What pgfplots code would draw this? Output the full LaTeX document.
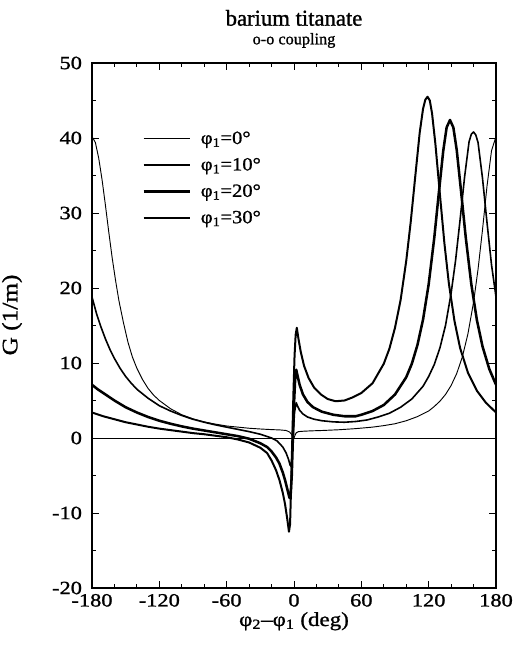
\documentclass[border=0pt]{standalone}
\usepackage{fontspec}
\setmainfont{Liberation Serif}
\newfontfamily\tickfont{Liberation Serif}[FakeStretch=1.2,FakeBold=1.2]
\newfontfamily\labfont{Liberation Serif}[FakeStretch=1.15,FakeBold=1.2]
\newfontfamily\legfont{Liberation Serif}[FakeStretch=1.1,FakeBold=1.0]
\newfontfamily\titfont{Liberation Serif}[FakeBold=1.2]
\usepackage{pgfplots}
\pgfplotsset{compat=1.18}
\begin{document}
\begin{tikzpicture}
\useasboundingbox (-69pt,-50.25pt) rectangle (316.5pt,441pt);
\begin{axis}[
 at={(0,0)}, anchor=south west,
 width=303pt, height=393.75pt, scale only axis,
 xmin=-180, xmax=180, ymin=-20, ymax=50,
 xtick={-180,-120,...,180}, ytick={-20,-10,...,50},
 minor x tick num=2, minor y tick num=1,
 tick align=inside,
 major tick length=5pt, minor tick length=3pt,
 axis line style={line width=0.9pt},
 every tick/.style={black, line width=0.6pt},
 /pgf/number format/assume math mode=true,
 ticklabel style={font=\tickfont\fontsize{14}{14}\selectfont},
 xticklabel style={yshift=-1pt},
 yticklabel style={xshift=-4pt},
 legend cell align=left,
 legend style={draw=none, fill=none, at={(axis cs:-139,41.6)}, anchor=north west,
   font=\legfont\fontsize{14}{14}\selectfont, row sep=5pt},
 legend image code/.code={\draw[#1] (0pt,0pt) -- (35pt,0pt); \path (40pt,0pt);},
 every axis plot/.append style={black, line join=round},
]
\addplot[line width=0.7pt] coordinates {
(-180,40.2)(-177,39.4)(-174,37.3)(-171,34.4)(-168,31.0)(-165,27.4)(-162,24.0)(-159,21.0)(-156,18.3)(-152,15.4)(-148,12.8)(-144,10.8)(-140,9.3)(-135,7.8)(-130,6.6)(-125,5.7)(-120,5.0)(-110,3.9)(-100,3.1)(-90,2.55)(-80,2.15)(-70,1.85)(-60,1.6)(-50,1.45)(-40,1.3)(-30,1.2)(-20,1.12)(-12,1.07)(-7,1.0)(-4,0.8)(-2,0.45)(-1,0.15)(0,0)(1,0.4)(2,0.7)(4,0.85)(8,0.9)(15,0.95)(25,1.0)(40,1.1)(55,1.25)(70,1.45)(80,1.65)(90,1.9)(100,2.3)(110,2.85)(120,3.6)(125,4.2)(130,4.9)(135,5.8)(140,7.0)(145,8.6)(150,10.8)(155,13.9)(160,18.1)(164,22.5)(168,27.8)(172,33.6)(176,38.3)(180,40.2)};
\addlegendentry{φ\textsubscript{1}=0°}
\addplot[line width=1.2pt] coordinates {
(-180,18.8)(-176,16.6)(-172,14.8)(-168,13.2)(-164,11.8)(-160,10.6)(-155,9.3)(-150,8.2)(-145,7.3)(-140,6.5)(-130,5.3)(-120,4.3)(-110,3.6)(-100,3.0)(-90,2.5)(-80,2.1)(-70,1.75)(-60,1.45)(-50,1.15)(-40,0.85)(-30,0.5)(-20,0.0)(-15,-0.4)(-10,-1.2)(-7,-2.0)(-5,-2.8)(-3.5,-3.6)(-2.5,-3.8)(-1.5,-2)(-0.5,1)(0.5,3.5)(2,4.7)(3,4.3)(5,3.7)(8,3.2)(12,2.8)(18,2.5)(25,2.3)(35,2.15)(45,2.1)(55,2.2)(65,2.4)(75,2.8)(85,3.3)(95,4.1)(105,5.2)(115,6.9)(120,8.2)(125,9.8)(130,12.0)(135,15.0)(140,19.3)(144,23.7)(148,29.1)(152,34.8)(156,39.5)(158,40.5)(160,40.8)(162,40.4)(164,39.4)(168,34.6)(172,28.7)(176,23.1)(180,18.8)};
\addlegendentry{φ\textsubscript{1}=10°}
\addplot[line width=1.9pt] coordinates {
(-180,7.1)(-175,6.5)(-170,6.0)(-165,5.5)(-160,5.0)(-150,4.1)(-140,3.4)(-130,2.8)(-120,2.3)(-110,1.9)(-100,1.55)(-90,1.25)(-80,1.0)(-70,0.75)(-60,0.5)(-50,0.25)(-40,-0.1)(-30,-0.7)(-24,-1.2)(-20,-1.8)(-16,-2.6)(-13,-3.4)(-10,-4.6)(-8,-5.6)(-6,-6.8)(-4,-8.0)(-3,-7.6)(-2,-5.0)(-1,0)(0,4.5)(1,7.8)(2,9.1)(3,8.4)(5,7.1)(8,5.8)(12,4.8)(17,4.1)(25,3.5)(35,3.1)(45,2.9)(55,2.9)(60,3.1)(70,3.6)(80,4.4)(90,5.8)(100,8.1)(105,9.9)(110,12.4)(115,15.8)(120,20.5)(125,26.7)(129,32.6)(133,38.3)(136,41.4)(139,42.4)(142,41.4)(145,38.4)(149,32.7)(153,26.8)(158,20.5)(163,15.7)(168,12.2)(174,9.2)(180,7.1)};
\addlegendentry{φ\textsubscript{1}=20°}
\addplot[line width=1.5pt] coordinates {
(-180,3.4)(-170,2.9)(-160,2.5)(-150,2.1)(-140,1.8)(-130,1.5)(-120,1.25)(-110,1.05)(-100,0.85)(-90,0.65)(-80,0.5)(-70,0.3)(-60,0.1)(-50,-0.2)(-40,-0.6)(-30,-1.3)(-24,-2.0)(-20,-3.0)(-16,-4.3)(-13,-5.6)(-10,-7.3)(-8,-8.8)(-6,-10.8)(-4.5,-12.5)(-3.5,-11.5)(-2.5,-6)(-1.5,0)(-0.5,6)(0.5,11)(1.5,13.8)(2.5,14.7)(4,13.2)(6,11.5)(9,9.6)(13,8.0)(18,6.7)(24,5.8)(30,5.2)(37,4.9)(45,5.0)(52,5.4)(60,6.0)(70,7.3)(80,9.9)(85,11.9)(90,14.7)(95,18.4)(100,23.6)(104,28.8)(108,34.8)(112,40.7)(115,43.9)(117,45.1)(119,45.5)(121,45.0)(123,43.3)(126,39.2)(130,32.5)(134,26.0)(138,20.6)(143,15.6)(148,12.0)(155,8.7)(163,6.3)(171,4.7)(180,3.4)};
\addlegendentry{φ\textsubscript{1}=30°}
\addplot[line width=0.6pt, forget plot] coordinates {(-180,0)(180,0)};
\end{axis}
\node[anchor=base, font=\titfont\fontsize{17}{17}\selectfont] at ([yshift=28pt]current axis.north) {barium titanate};
\node[anchor=base, font=\titfont\fontsize{12.2}{12.2}\selectfont] at ([yshift=14pt]current axis.north) {o-o coupling};
\node[anchor=base, font=\labfont\fontsize{15}{15}\selectfont] at ([yshift=-28.5pt]current axis.south) {φ\textsubscript{2}–φ\textsubscript{1} (deg)};
\node[rotate=90, font=\labfont\fontsize{16.5}{16.5}\selectfont] at ([xshift=-60pt,yshift=7.9pt]current axis.west) {G (1/m)};
\end{tikzpicture}
\end{document}
